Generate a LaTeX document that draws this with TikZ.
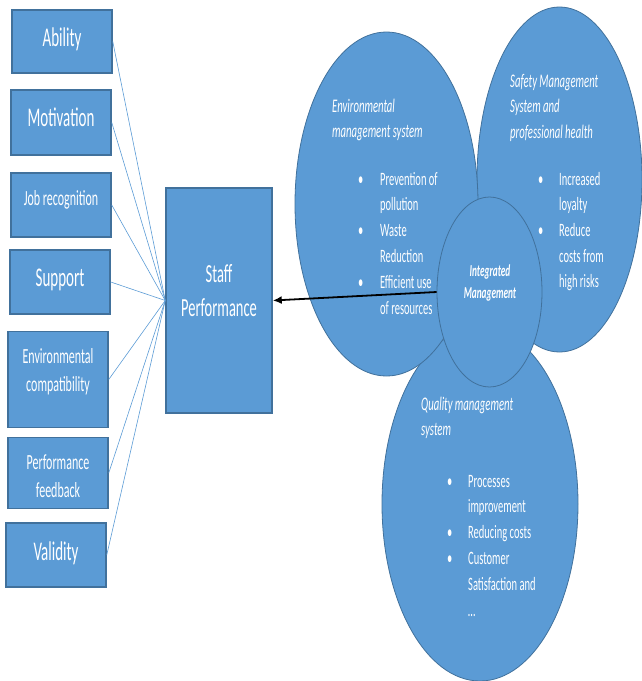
\documentclass[tikz,border=0pt]{standalone}
\usepackage{fontspec}
\setmainfont{Carlito}
\usepackage{graphicx}
\usetikzlibrary{shapes.geometric,arrows.meta}
\definecolor{fillblue}{HTML}{5B9BD5}
\definecolor{edgeblue}{HTML}{41719C}
\newcommand{\vst}[1]{\scalebox{1}[1.8]{#1}}
\newcommand{\lift}[2]{\raisebox{#1}[0pt][0pt]{\vst{#2}}}
\tikzset{factor/.style={draw=edgeblue,line width=1.5pt,fill=fillblue,text=white,minimum width=100pt,inner sep=0pt,font=\fontsize{15}{19}\selectfont}}

\begin{document}
\begin{tikzpicture}[x=1pt,y=-1pt,
    blob/.style={ellipse,draw=edgeblue,line width=0.8pt,fill=fillblue,inner sep=0pt},
    txt/.style={anchor=base west,inner sep=0pt,text=white},
    link/.style={fillblue,line width=0.6pt}]
    \useasboundingbox (0,0) rectangle (642,681);
    \node [factor,minimum height=63pt] (ability) at (62,41.5) {\lift{-4.5pt}{Ability}};
    \node [factor,minimum height=65pt] (motiv) at (61,122.5) {\lift{-3.5pt}{Motivation}};
    \node [factor,minimum height=64pt,font=\fontsize{12}{15}\selectfont] (jobrec) at (61,205) {\lift{0pt}{Job recognition}};
    \node [factor,minimum height=64pt] (support) at (60,282) {\lift{-4pt}{Support}};
    \node [factor,minimum height=96pt,font=\fontsize{12}{16.1}\selectfont] (envcomp) at (58,379.5)
        {\lift{16.5pt}{\begin{tabular}[t]{@{}c@{}}Environmental\\compatibility\end{tabular}}};
    \node [factor,minimum height=71pt,font=\fontsize{12}{15.6}\selectfont] (perffb) at (58,473)
        {\lift{4pt}{\begin{tabular}[t]{@{}c@{}}Performance\\feedback\end{tabular}}};
    \node [factor,minimum height=64pt] (validity) at (56,555) {\lift{-5pt}{Validity}};
    \node [factor,minimum width=106pt,minimum height=225pt,font=\fontsize{14.5}{19.4}\selectfont] (staff) at (219,300.5)
        {\lift{18.5pt}{\begin{tabular}[t]{@{}c@{}}Staff\\Performance\end{tabular}}};
    \foreach \f in {ability,motiv,jobrec,support,envcomp,perffb,validity}
        \draw [link] (\f.east) -- (staff.west);
    \node [blob,minimum width=196pt,minimum height=354pt] (quality) at (480,504) {};
    \node [blob,minimum width=165pt,minimum height=345pt] (safety) at (559.5,179.5) {};
    \node [blob,minimum width=183pt,minimum height=344pt] (env) at (386.5,204) {};
    \node [blob,minimum width=105pt,minimum height=190pt] (integ) at (489.5,292) {};
    \node [txt,font=\fontsize{10.7}{13.9}\selectfont\itshape] (envtitle) at (332,112)
        {\vst{\begin{tabular}[t]{@{}l@{}}Environmental\\management system\end{tabular}}};
    \node [txt,font=\fontsize{10.5}{14.4}\selectfont] (envlist) at (358,185)
        {\vst{\begin{tabular}[t]{@{}p{22pt}@{}l@{}}\textbullet & Prevention of\\ & pollution\\\textbullet & Waste\\ & Reduction\\\textbullet & Efficient use\\ & of resources\end{tabular}}};
    \node [txt,font=\fontsize{10.7}{14.2}\selectfont\itshape] (safetytitle) at (510,87)
        {\vst{\begin{tabular}[t]{@{}l@{}}Safety Management\\System and\\professional health\end{tabular}}};
    \node [txt,font=\fontsize{10.5}{14.3}\selectfont] (safetylist) at (538,185)
        {\vst{\begin{tabular}[t]{@{}p{21pt}@{}l@{}}\textbullet & Increased\\ & loyalty\\\textbullet & Reduce\\ & costs from\\ & high risks\end{tabular}}};
    \node [txt,font=\fontsize{10.7}{14.4}\selectfont\itshape] (qualtitle) at (421,410)
        {\vst{\begin{tabular}[t]{@{}l@{}}Quality management\\system\end{tabular}}};
    \node [txt,font=\fontsize{10.5}{14.4}\selectfont] (quallist) at (447,487)
        {\vst{\begin{tabular}[t]{@{}p{21pt}@{}l@{}}\textbullet & Processes\\ & improvement\\\textbullet & Reducing costs\\\textbullet & Customer\\ & Satisfaction and\\ & \ldots\end{tabular}}};
    \node [inner sep=0pt,text=white,font=\fontsize{9.3}{12.2}\selectfont\bfseries\itshape] (integtxt) at (490,283)
        {\vst{\begin{tabular}{@{}c@{}}Integrated\\Management\end{tabular}}};
    \draw [-{Latex[length=9pt,width=8pt]},line width=1.8pt] (integ.west) -- (staff.east);
\end{tikzpicture}
\end{document}
